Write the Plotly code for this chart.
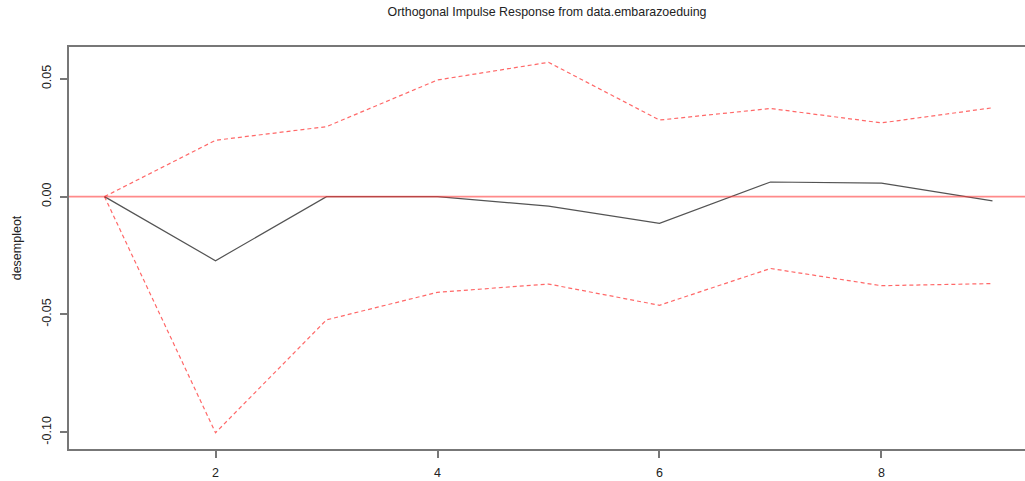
import plotly.graph_objects as go

horizon = [1, 2, 3, 4, 5, 6, 7, 8, 9]
irf = [0.0, -0.0272, 0.0, 0.0, -0.0040, -0.0113, 0.0062, 0.0057, -0.0018]
upper = [0.0, 0.0239, 0.0297, 0.0495, 0.0570, 0.0325, 0.0374, 0.0313, 0.0377]
lower = [0.0, -0.1002, -0.0523, -0.0406, -0.0371, -0.0461, -0.0305, -0.0378, -0.0369]
x_ticks = [2, 4, 6, 8]
y_ticks = [-0.10, -0.05, 0.00, 0.05]
y_ticklabels = ["-0.10", "-0.05", "0.00", "0.05"]

title_text = "Orthogonal Impulse Response from data.embarazoeduing"
y_title = "desempleot"

fig = go.Figure()
fig.add_hline(y=0, line=dict(color="rgba(255,60,60,0.6)", width=1.6))
fig.add_trace(go.Scatter(x=horizon, y=upper, mode="lines",
                         line=dict(color="rgba(255,40,40,0.7)", width=1.2, dash="4px,3px"),
                         showlegend=False, hoverinfo="skip"))
fig.add_trace(go.Scatter(x=horizon, y=lower, mode="lines",
                         line=dict(color="rgba(255,40,40,0.7)", width=1.2, dash="4px,3px"),
                         showlegend=False, hoverinfo="skip"))
fig.add_trace(go.Scatter(x=horizon, y=irf, mode="lines",
                         line=dict(color="rgba(40,40,40,0.8)", width=1.2),
                         showlegend=False, hoverinfo="skip"))

axis_font = dict(family="Liberation Sans, Arial, sans-serif", size=12.5, color="#222")

fig.update_layout(
    width=1025, height=481,
    margin=dict(l=69, r=0, t=47, b=32),
    paper_bgcolor="white", plot_bgcolor="white",
    font=dict(family="Liberation Sans, Arial, sans-serif", color="#222"),
    title=dict(text=title_text, xref="paper", x=0.5, xanchor="center",
               yref="container", y=1 - 12 / 481, yanchor="middle",
               font=dict(size=12.4, color="#222")),
    xaxis=dict(range=[0.68, 9.293], tickvals=x_ticks, ticktext=[str(v) for v in x_ticks],
               showgrid=False, zeroline=False, showline=True, mirror=True,
               linecolor="#777", linewidth=1.5, ticks="outside", ticklen=7,
               tickcolor="#777", tickwidth=1.5, tickfont=axis_font,
               ticklabelstandoff=4, automargin=False),
    yaxis=dict(range=[-0.1071, 0.0635], tickvals=y_ticks, ticktext=y_ticklabels,
               showgrid=False, zeroline=False, showline=True,
               linecolor="#777", linewidth=1.5, ticks="outside", ticklen=7,
               tickcolor="#777", tickwidth=1.5, tickangle=-90, tickfont=axis_font,
               ticklabelstandoff=4, automargin=False,
               title=dict(text=y_title, font=dict(size=12.5, color="#222"), standoff=16)),
)

fig.write_html("out.html", config={"displayModeBar": False},
               post_script="document.body.style.margin='0';")
